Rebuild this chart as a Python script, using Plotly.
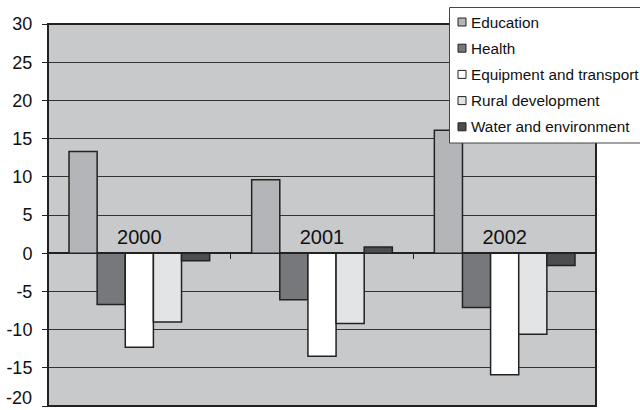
import plotly.graph_objects as go

years = ["2000", "2001", "2002"]
sectors = ["Education", "Health", "Equipment and transport", "Rural development", "Water and environment"]
education = [13.3, 9.6, 16.1]
health = [-6.7, -6.1, -7.1]
equipment = [-12.3, -13.5, -15.9]
rural = [-9.0, -9.2, -10.6]
water = [-1.0, 0.8, -1.6]
y_ticks = [30, 25, 20, 15, 10, 5, 0, -5, -10, -15, -20]

COLORS = ["#b4b5b8", "#77787b", "#ffffff", "#e3e4e6", "#4c4d4f"]
FONT = "Liberation Sans, Arial, sans-serif"

# plot area in pixels
L, R, T, B = 48, 596, 24, 406
PW, PH = R - L, B - T


def px(x):
    return (x - L) / PW


def py(y):
    return (B - y) / PH


fig = go.Figure()
for name, vals, col in zip(sectors, [education, health, equipment, rural, water], COLORS):
    fig.add_trace(go.Bar(
        x=years,
        y=vals,
        name=name,
        marker=dict(color=col, line=dict(color="#222222", width=1.5)),
    ))

# border around plotting area
fig.add_shape(type="rect", xref="paper", yref="paper", x0=0, x1=1, y0=0, y1=1,
              line=dict(color="#222222", width=2), layer="above")

# the lowest tick label sits on the page edge; plotly drops it, so put it back
fig.add_annotation(x=px(34), y=y_ticks[-1], xref="paper", yref="y",
                   text=str(y_ticks[-1]), showarrow=False, xanchor="right",
                   yanchor="bottom", yshift=-4, font=dict(size=18, color="#111111"))

# legend box (drawn by hand, it runs off the right edge like the original)
fig.add_shape(type="rect", xref="paper", yref="paper",
              x0=px(449.5), x1=px(700), y0=py(143), y1=py(7.5),
              fillcolor="white", line=dict(color="#444444", width=1), layer="above")
for i, (name, col) in enumerate(zip(sectors, COLORS)):
    yc = 22 + i * 26.2
    fig.add_shape(type="rect", xref="paper", yref="paper",
                  x0=px(458), x1=px(466), y0=py(yc + 4), y1=py(yc - 4),
                  fillcolor=col, line=dict(color="#222222", width=1), layer="above")
    fig.add_annotation(x=px(469), y=py(yc), xref="paper", yref="paper",
                       text=name, showarrow=False, xanchor="left", yanchor="middle",
                       font=dict(size=15.3, color="#111111"))

fig.update_layout(
    width=640,
    height=410,
    margin=dict(l=L, r=640 - R, t=T, b=410 - B, autoexpand=False),
    paper_bgcolor="white",
    plot_bgcolor="#c8c9cb",
    font=dict(family=FONT, size=18, color="#111111"),
    barmode="group",
    bargap=0.23,
    bargroupgap=0,
    showlegend=False,
    xaxis=dict(
        anchor="free",
        position=0.4,
        side="top",
        tickson="boundaries",
        ticks="inside",
        ticklen=5,
        tickcolor="#222222",
        ticklabelstandoff=5,
        showline=False,
        showgrid=False,
        tickfont=dict(size=20),
    ),
    yaxis=dict(
        range=[-20, 30],
        tickvals=y_ticks,
        ticktext=[str(v) for v in y_ticks],
        ticks="outside",
        ticklen=5,
        tickcolor="#222222",
        ticklabelstandoff=6,
        showgrid=True,
        gridcolor="#333333",
        gridwidth=1,
        zeroline=True,
        zerolinecolor="#222222",
        zerolinewidth=1.5,
        showline=False,
    ),
)

fig.write_html("out.html", config={"displayModeBar": False},
               post_script="document.body.style.margin = '0';")
